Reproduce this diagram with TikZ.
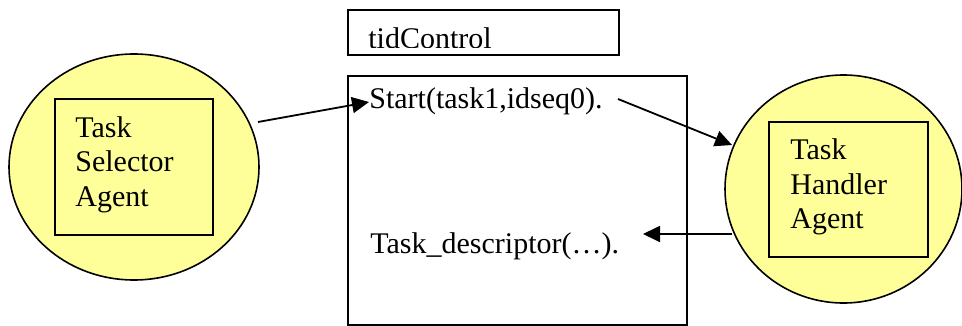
\documentclass[tikz,border=0pt]{standalone}
\usepackage{fontspec}
\setmainfont{Liberation Serif}
\usetikzlibrary{arrows.meta,shapes.geometric}
\definecolor{agentfill}{HTML}{FFFF99}
\tikzset{
  agent/.style={draw=black, line width=0.8pt, fill=agentfill, ellipse, inner sep=0pt},
  frame/.style={draw=black, line width=1pt},
  lbl/.style={font=\fontsize{15}{17.25}\selectfont, inner sep=0pt, anchor=base west},
  msg/.style={-{Triangle[length=8.5pt,width=8pt]}, line width=0.9pt},
}
\begin{document}
\begin{tikzpicture}[x=0.5pt, y=-0.5pt]
\useasboundingbox (0,0) rectangle (962,326);
\begin{scope}
\clip (0,0) rectangle (962,326);
% agents
\node[agent, minimum width=125pt, minimum height=113pt] (sel) at (134,167) {};
\node[agent, minimum width=118.5pt, minimum height=114pt] (hdl) at (843.5,189) {};
\end{scope}
% inner boxes of the agents
\draw[frame] (55,99) rectangle (213,235);
\draw[frame] (769,122) rectangle (928,257);
\node[lbl] (selt) at (75,137) {Task};
\node[lbl] (selt2) at (75,171) {Selector};
\node[lbl] (selt3) at (75,206) {Agent};
\node[lbl] (hdlt) at (790,159) {Task};
\node[lbl] (hdlt2) at (790,194) {Handler};
\node[lbl] (hdlt3) at (790,228) {Agent};
% tidControl box (its label is cut at the baseline)
\draw[frame] (348,10) rectangle (619,55);
\begin{scope}
\clip (348,10) rectangle (619,48);
\node[lbl] (tid) at (368,48.5) {tidControl};
\end{scope}
% message store
\draw[frame] (348,76) rectangle (687,325);
\node[lbl] (start) at (369,108) {Start(task1,idseq0).};
\node[lbl] (desc) at (370,253) {Task\_descriptor(…).};
% messages
\coordinate (a1s) at (258,122);
\coordinate (a1e) at (369,102);
\coordinate (a2s) at (618,99);
\coordinate (a2e) at (732,145);
\coordinate (a3s) at (732,234);
\coordinate (a3e) at (643,234);
\draw[msg] (a1s) -- (a1e);
\draw[msg] (a2s) -- (a2e);
\draw[msg] (a3s) -- (a3e);
\end{tikzpicture}
\end{document}
